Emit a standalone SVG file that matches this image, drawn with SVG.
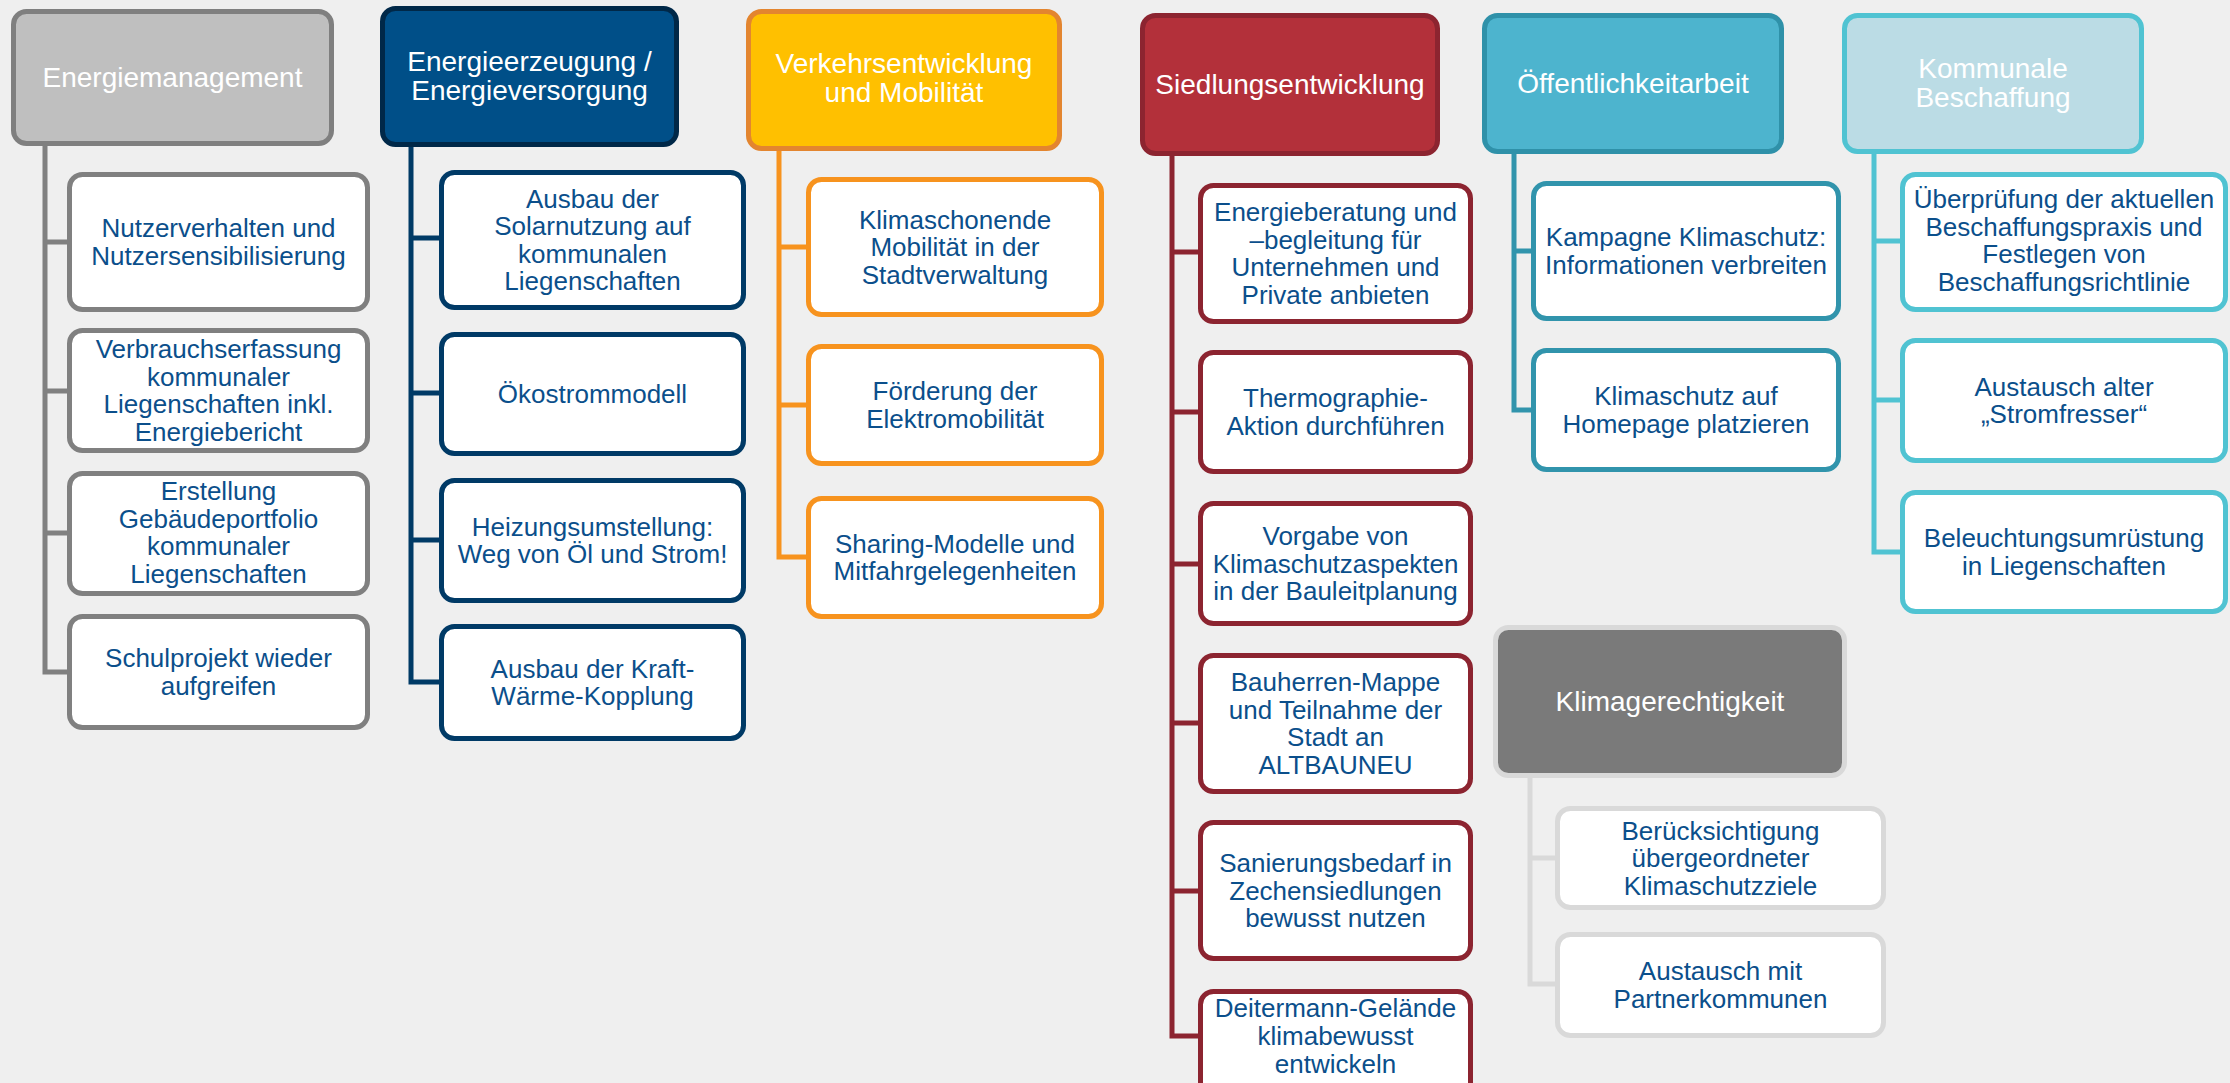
<svg xmlns="http://www.w3.org/2000/svg" width="2230" height="1083" viewBox="0 0 2230 1083">
<style>
text{font-family:"Liberation Sans",Arial,sans-serif;text-anchor:middle}
.h{font-size:28px;fill:#ffffff}
.c{font-size:26px;fill:#0B4F8B}
.box{stroke-width:5}
.child{fill:#ffffff}
.ln{fill:none;stroke-width:5;stroke-linejoin:miter;stroke-linecap:butt}
.gray .hd{fill:#BFBFBF;stroke:#7F7F7F}.gray .child{stroke:#808080}
.blue .hd{fill:#004F88;stroke:#002848}.blue .child{stroke:#003A66}
.orange .hd{fill:#FFC000;stroke:#E3852F}.orange .child{stroke:#F7931E}
.red .hd{fill:#B3303A;stroke:#8C2430}.red .child{stroke:#8C2430}
.teal .hd{fill:#4DB4CE;stroke:#2F91A9}.teal .child{stroke:#3194AC}
.lteal .hd{fill:#BBDCE5;stroke:#50C3D2}.lteal .child{stroke:#50C3D2}
.kg .hd{fill:#7A7A7A;stroke:#D9D9D9}.kg .child{stroke:#D9D9D9}
</style>
<rect width="2230" height="1083" fill="#EFEFEF"/>
<g id="connectors">
<path class="ln" stroke="#808080" d="M45 146V672H67M45 242H67M45 391H67M45 533H67"/>
<path class="ln" stroke="#003A66" d="M411 147V682H439M411 238H439M411 393H439M411 540H439"/>
<path class="ln" stroke="#F7931E" d="M779 151V557H806M779 247H806M779 405H806"/>
<path class="ln" stroke="#8C2430" d="M1172 156V1036H1198M1172 252H1198M1172 412H1198M1172 564H1198M1172 723H1198M1172 891H1198"/>
<path class="ln" stroke="#3194AC" d="M1514 154V410H1531M1514 251H1531"/>
<path class="ln" stroke="#50C3D2" d="M1874 154V552H1900M1874 241H1900M1874 400H1900"/>
<path class="ln" stroke="#D9D9D9" d="M1530 778V984H1555M1530 858H1555"/>
</g>

<g class="gray">
<g id="energiemanagement"><rect class="box hd" x="13.5" y="11.5" width="318" height="132" rx="13"/><text class="h" x="172.5" y="87">Energiemanagement</text></g>
<g id="gray-1"><rect class="box child" x="69.5" y="174.5" width="298" height="135" rx="13"/><text class="c" x="218.5"><tspan x="218.5" y="237">Nutzerverhalten und</tspan><tspan x="218.5" y="265">Nutzersensibilisierung</tspan></text></g>
<g id="gray-2"><rect class="box child" x="69.5" y="330.5" width="298" height="120" rx="13"/><text class="c"><tspan x="218.5" y="358">Verbrauchserfassung</tspan><tspan x="218.5" y="385.5">kommunaler</tspan><tspan x="218.5" y="413">Liegenschaften inkl.</tspan><tspan x="218.5" y="440.5">Energiebericht</tspan></text></g>
<g id="gray-3"><rect class="box child" x="69.5" y="473.5" width="298" height="120" rx="13"/><text class="c"><tspan x="218.5" y="500">Erstellung</tspan><tspan x="218.5" y="527.5">Gebäudeportfolio</tspan><tspan x="218.5" y="555">kommunaler</tspan><tspan x="218.5" y="582.5">Liegenschaften</tspan></text></g>
<g id="gray-4"><rect class="box child" x="69.5" y="616.5" width="298" height="111" rx="13"/><text class="c"><tspan x="218.5" y="667">Schulprojekt wieder</tspan><tspan x="218.5" y="694.5">aufgreifen</tspan></text></g>
</g>

<g class="blue">
<g id="energieerzeugung"><rect class="box hd" x="382.5" y="8.5" width="294" height="136" rx="13"/><text class="h"><tspan x="529.5" y="71">Energieerzeugung /</tspan><tspan x="529.5" y="100">Energieversorgung</tspan></text></g>
<g id="blue-1"><rect class="box child" x="441.5" y="172.5" width="302" height="135" rx="13"/><text class="c"><tspan x="592.5" y="207.5">Ausbau der</tspan><tspan x="592.5" y="235">Solarnutzung auf</tspan><tspan x="592.5" y="262.5">kommunalen</tspan><tspan x="592.5" y="290">Liegenschaften</tspan></text></g>
<g id="blue-2"><rect class="box child" x="441.5" y="334.5" width="302" height="119" rx="13"/><text class="c" x="592.5" y="403">Ökostrommodell</text></g>
<g id="blue-3"><rect class="box child" x="441.5" y="480.5" width="302" height="120" rx="13"/><text class="c"><tspan x="592.5" y="535.5">Heizungsumstellung:</tspan><tspan x="592.5" y="563">Weg von Öl und Strom!</tspan></text></g>
<g id="blue-4"><rect class="box child" x="441.5" y="626.5" width="302" height="112" rx="13"/><text class="c"><tspan x="592.5" y="677.5">Ausbau der Kraft-</tspan><tspan x="592.5" y="705">Wärme-Kopplung</tspan></text></g>
</g>

<g class="orange">
<g id="verkehr"><rect class="box hd" x="748.5" y="11.5" width="311" height="137" rx="13"/><text class="h"><tspan x="904" y="73">Verkehrsentwicklung</tspan><tspan x="904" y="102">und Mobilität</tspan></text></g>
<g id="orange-1"><rect class="box child" x="808.5" y="179.5" width="293" height="135" rx="13"/><text class="c"><tspan x="955" y="228.5">Klimaschonende</tspan><tspan x="955" y="256">Mobilität in der</tspan><tspan x="955" y="283.5">Stadtverwaltung</tspan></text></g>
<g id="orange-2"><rect class="box child" x="808.5" y="346.5" width="293" height="117" rx="13"/><text class="c"><tspan x="955" y="400">Förderung der</tspan><tspan x="955" y="427.5">Elektromobilität</tspan></text></g>
<g id="orange-3"><rect class="box child" x="808.5" y="498.5" width="293" height="118" rx="13"/><text class="c"><tspan x="955" y="552.5">Sharing-Modelle und</tspan><tspan x="955" y="580">Mitfahrgelegenheiten</tspan></text></g>
</g>

<g class="red">
<g id="siedlung"><rect class="box hd" x="1142.5" y="15.5" width="295" height="138" rx="13"/><text class="h" x="1290" y="94">Siedlungsentwicklung</text></g>
<g id="red-1"><rect class="box child" x="1200.5" y="185.5" width="270" height="136" rx="13"/><text class="c"><tspan x="1335.5" y="221">Energieberatung und</tspan><tspan x="1335.5" y="248.5">–begleitung für</tspan><tspan x="1335.5" y="276">Unternehmen und</tspan><tspan x="1335.5" y="303.5">Private anbieten</tspan></text></g>
<g id="red-2"><rect class="box child" x="1200.5" y="352.5" width="270" height="119" rx="13"/><text class="c"><tspan x="1335.5" y="407">Thermographie-</tspan><tspan x="1335.5" y="434.5">Aktion durchführen</tspan></text></g>
<g id="red-3"><rect class="box child" x="1200.5" y="503.5" width="270" height="120" rx="13"/><text class="c"><tspan x="1335.5" y="545">Vorgabe von</tspan><tspan x="1335.5" y="572.5">Klimaschutzaspekten</tspan><tspan x="1335.5" y="600">in der Bauleitplanung</tspan></text></g>
<g id="red-4"><rect class="box child" x="1200.5" y="655.5" width="270" height="136" rx="13"/><text class="c"><tspan x="1335.5" y="691">Bauherren-Mappe</tspan><tspan x="1335.5" y="718.5">und Teilnahme der</tspan><tspan x="1335.5" y="746">Stadt an</tspan><tspan x="1335.5" y="773.5">ALTBAUNEU</tspan></text></g>
<g id="red-5"><rect class="box child" x="1200.5" y="822.5" width="270" height="136" rx="13"/><text class="c"><tspan x="1335.5" y="872">Sanierungsbedarf in</tspan><tspan x="1335.5" y="899.5">Zechensiedlungen</tspan><tspan x="1335.5" y="927">bewusst nutzen</tspan></text></g>
<g id="red-6"><rect class="box child" x="1200.5" y="991.5" width="270" height="110" rx="13"/><text class="c"><tspan x="1335.5" y="1016.5">Deitermann-Gelände</tspan><tspan x="1335.5" y="1044.5">klimabewusst</tspan><tspan x="1335.5" y="1072.5">entwickeln</tspan></text></g>
</g>

<g class="teal">
<g id="oeffentlichkeit"><rect class="box hd" x="1484.5" y="15.5" width="297" height="136" rx="13"/><text class="h" x="1633" y="93">Öffentlichkeitarbeit</text></g>
<g id="teal-1"><rect class="box child" x="1533.5" y="183.5" width="305" height="135" rx="13"/><text class="c"><tspan x="1686" y="246">Kampagne Klimaschutz:</tspan><tspan x="1686" y="273.5">Informationen verbreiten</tspan></text></g>
<g id="teal-2"><rect class="box child" x="1533.5" y="350.5" width="305" height="119" rx="13"/><text class="c"><tspan x="1686" y="405">Klimaschutz auf</tspan><tspan x="1686" y="432.5">Homepage platzieren</tspan></text></g>
</g>

<g class="lteal">
<g id="beschaffung"><rect class="box hd" x="1844.5" y="15.5" width="297" height="136" rx="13"/><text class="h"><tspan x="1993" y="78">Kommunale</tspan><tspan x="1993" y="107">Beschaffung</tspan></text></g>
<g id="lteal-1"><rect class="box child" x="1902.5" y="174.5" width="323" height="135" rx="13"/><text class="c"><tspan x="2064" y="208">Überprüfung der aktuellen</tspan><tspan x="2064" y="235.5">Beschaffungspraxis und</tspan><tspan x="2064" y="263">Festlegen von</tspan><tspan x="2064" y="290.5">Beschaffungsrichtlinie</tspan></text></g>
<g id="lteal-2"><rect class="box child" x="1902.5" y="340.5" width="323" height="120" rx="13"/><text class="c"><tspan x="2064" y="395.5">Austausch alter</tspan><tspan x="2064" y="423">„Stromfresser“</tspan></text></g>
<g id="lteal-3"><rect class="box child" x="1902.5" y="492.5" width="323" height="119" rx="13"/><text class="c"><tspan x="2064" y="547">Beleuchtungsumrüstung</tspan><tspan x="2064" y="574.5">in Liegenschaften</tspan></text></g>
</g>

<g class="kg">
<g id="klimagerechtigkeit"><rect class="box hd" x="1495.5" y="627.5" width="349" height="148" rx="13"/><text class="h" x="1670" y="711">Klimagerechtigkeit</text></g>
<g id="kg-1"><rect class="box child" x="1557.5" y="808.5" width="326" height="99" rx="13"/><text class="c"><tspan x="1720.5" y="839.5">Berücksichtigung</tspan><tspan x="1720.5" y="867">übergeordneter</tspan><tspan x="1720.5" y="894.5">Klimaschutzziele</tspan></text></g>
<g id="kg-2"><rect class="box child" x="1557.5" y="934.5" width="326" height="101" rx="13"/><text class="c"><tspan x="1720.5" y="980">Austausch mit</tspan><tspan x="1720.5" y="1007.5">Partnerkommunen</tspan></text></g>
</g>
</svg>
